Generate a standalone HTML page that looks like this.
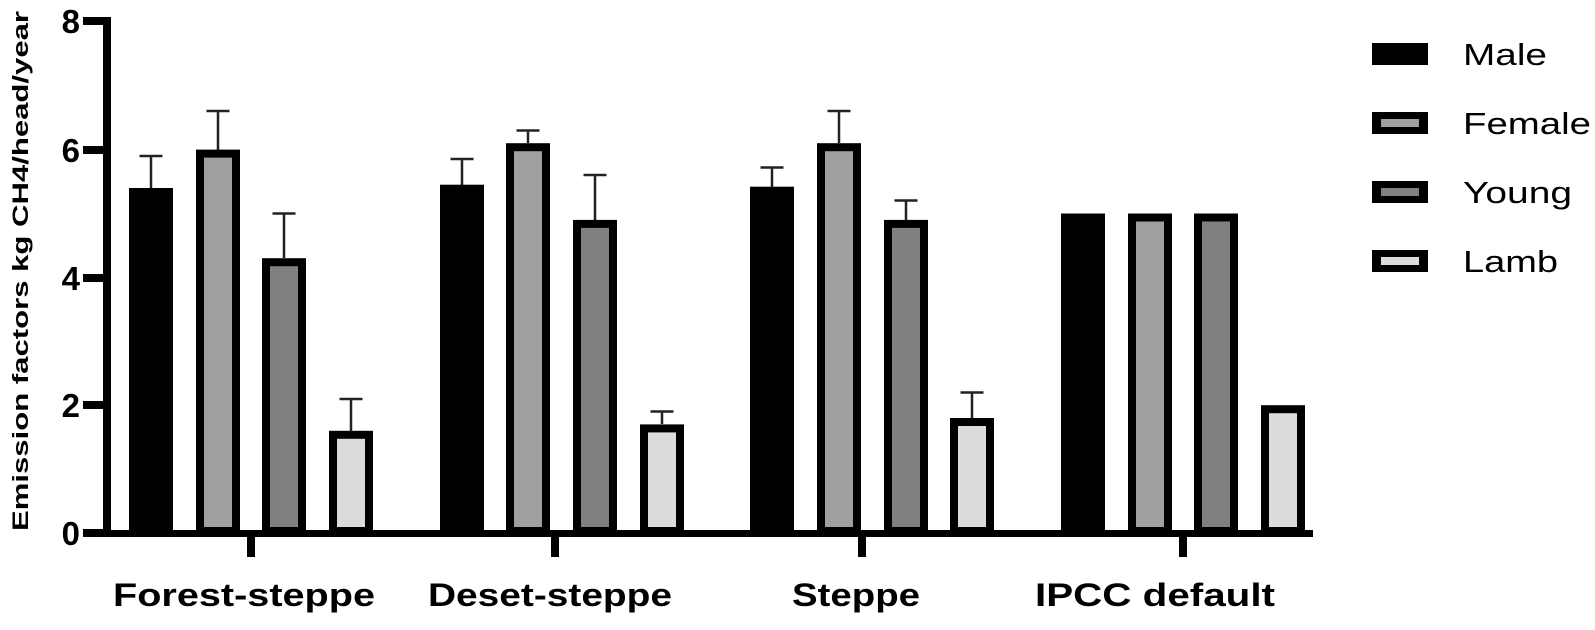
<!DOCTYPE html>
<html><head><meta charset="utf-8"><style>
html,body{margin:0;padding:0;background:#fff}
svg{display:block}
text{font-family:"Liberation Sans",Arial,sans-serif}
</style></head><body>
<svg width="1595" height="630" viewBox="0 0 1595 630" xmlns="http://www.w3.org/2000/svg">
<g stroke="#222" stroke-width="2.5">
<line x1="151" y1="188" x2="151" y2="156"/><line x1="139.5" y1="156" x2="162.5" y2="156"/>
<line x1="218" y1="150" x2="218" y2="111"/><line x1="206.5" y1="111" x2="229.5" y2="111"/>
<line x1="284" y1="258" x2="284" y2="213.5"/><line x1="272.5" y1="213.5" x2="295.5" y2="213.5"/>
<line x1="351" y1="431" x2="351" y2="399"/><line x1="339.5" y1="399" x2="362.5" y2="399"/>
<line x1="462" y1="185" x2="462" y2="159"/><line x1="450.5" y1="159" x2="473.5" y2="159"/>
<line x1="528" y1="143" x2="528" y2="130.5"/><line x1="516.5" y1="130.5" x2="539.5" y2="130.5"/>
<line x1="595" y1="220" x2="595" y2="175"/><line x1="583.5" y1="175" x2="606.5" y2="175"/>
<line x1="662" y1="424" x2="662" y2="411.5"/><line x1="650.5" y1="411.5" x2="673.5" y2="411.5"/>
<line x1="772" y1="187" x2="772" y2="167.5"/><line x1="760.5" y1="167.5" x2="783.5" y2="167.5"/>
<line x1="839" y1="143" x2="839" y2="111"/><line x1="827.5" y1="111" x2="850.5" y2="111"/>
<line x1="906" y1="220" x2="906" y2="200.5"/><line x1="894.5" y1="200.5" x2="917.5" y2="200.5"/>
<line x1="972" y1="418" x2="972" y2="392.5"/><line x1="960.5" y1="392.5" x2="983.5" y2="392.5"/>
</g>
<g stroke="#000" stroke-width="8">
<rect x="133" y="192" width="36" height="339" fill="#000"/>
<rect x="200" y="153.6" width="36" height="377.4" fill="#a0a0a3"/>
<rect x="266" y="262.2" width="36" height="268.8" fill="#808080"/>
<rect x="333" y="434.8" width="36" height="96.2" fill="#dcdcdc"/>

<rect x="444" y="188.7" width="36" height="342.3" fill="#000"/>
<rect x="510" y="147.2" width="36" height="383.8" fill="#a0a0a3"/>
<rect x="577" y="223.9" width="36" height="307.1" fill="#808080"/>
<rect x="644" y="428.4" width="36" height="102.6" fill="#dcdcdc"/>

<rect x="754" y="190.7" width="36" height="340.3" fill="#000"/>
<rect x="821" y="147.2" width="36" height="383.8" fill="#a0a0a3"/>
<rect x="888" y="223.9" width="36" height="307.1" fill="#808080"/>
<rect x="954" y="422" width="36" height="109" fill="#dcdcdc"/>

<rect x="1065" y="217.5" width="36" height="313.5" fill="#000"/>
<rect x="1132" y="217.5" width="36" height="313.5" fill="#a0a0a3"/>
<rect x="1198" y="217.5" width="36" height="313.5" fill="#808080"/>
<rect x="1265" y="409.2" width="36" height="121.8" fill="#dcdcdc"/>
</g>
<!-- y axis -->
<rect x="103" y="17" width="8" height="520" fill="#000"/>
<g fill="#000">
<rect x="83" y="17" width="22" height="8"/>
<rect x="83" y="146" width="22" height="8"/>
<rect x="83" y="274" width="22" height="8"/>
<rect x="83" y="401" width="22" height="8"/>
<rect x="83" y="529" width="22" height="8"/>
</g>
<g font-size="33" font-weight="bold" text-anchor="end">
<text x="80" y="33">8</text>
<text x="80" y="162">6</text>
<text x="80" y="290">4</text>
<text x="80" y="417">2</text>
<text x="80" y="545">0</text>
</g>
<text transform="translate(28,271) rotate(-90)" font-size="22" font-weight="bold" text-anchor="middle" textLength="520" lengthAdjust="spacingAndGlyphs">Emission factors kg CH4/head/year</text>
<!-- x axis -->
<rect x="103" y="530" width="1210" height="7" fill="#000"/>
<g fill="#000">
<rect x="247" y="535" width="8" height="22"/>
<rect x="551" y="535" width="8" height="22"/>
<rect x="858" y="535" width="8" height="22"/>
<rect x="1179" y="535" width="8" height="22"/>
</g>
<g font-size="32" font-weight="bold" text-anchor="middle" lengthAdjust="spacingAndGlyphs">
<text x="244" y="606" textLength="262" lengthAdjust="spacingAndGlyphs">Forest-steppe</text>
<text x="550" y="606" textLength="244" lengthAdjust="spacingAndGlyphs">Deset-steppe</text>
<text x="856" y="606" textLength="128" lengthAdjust="spacingAndGlyphs">Steppe</text>
<text x="1155" y="606" textLength="240" lengthAdjust="spacingAndGlyphs">IPCC default</text>
</g>
<!-- legend -->
<rect x="1372" y="43" width="56" height="22" fill="#000"/>
<rect x="1372" y="112" width="56" height="22" fill="#000"/><rect x="1381" y="119" width="38" height="8" fill="#a0a0a3"/>
<rect x="1372" y="181" width="56" height="22" fill="#000"/><rect x="1381" y="188" width="38" height="8" fill="#808080"/>
<rect x="1372" y="250" width="56" height="22" fill="#000"/><rect x="1381" y="257" width="38" height="8" fill="#dcdcdc"/>
<g font-size="31">
<text x="1463" y="65" textLength="84" lengthAdjust="spacingAndGlyphs">Male</text>
<text x="1463" y="134" textLength="128" lengthAdjust="spacingAndGlyphs">Female</text>
<text x="1463" y="203" textLength="109" lengthAdjust="spacingAndGlyphs">Young</text>
<text x="1463" y="272" textLength="95" lengthAdjust="spacingAndGlyphs">Lamb</text>
</g>
</svg>
</body></html>
